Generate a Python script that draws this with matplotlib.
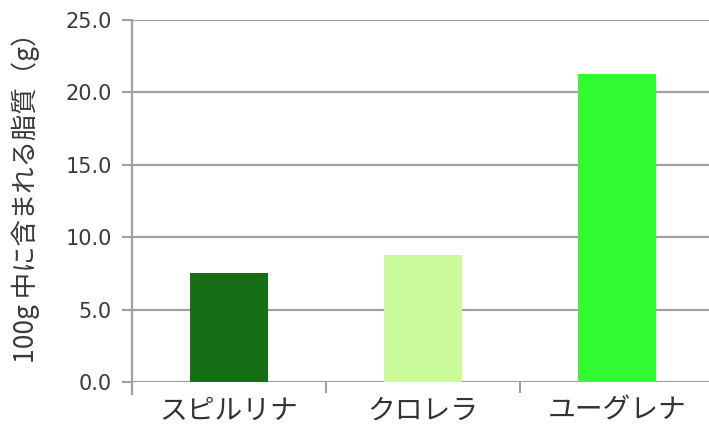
import matplotlib
matplotlib.use("Agg")
import matplotlib.pyplot as plt
from matplotlib.ticker import FixedLocator, NullFormatter

plt.rcParams['font.family'] = ['DejaVu Sans', 'Noto Sans CJK JP']

categories = ["スピルリナ", "クロレラ", "ユーグレナ"]
values = [7.5, 8.8, 21.3]
colors = ["#166f16", "#ccfb9c", "#33fb33"]
yticks = [0, 5, 10, 15, 20, 25]
ylabel = "100g 中に含まれる脂質（g）"

fig = plt.figure(figsize=(7.09, 4.30), dpi=100)
ax = fig.add_axes([132/709, 1-382/430, 1-132/709, (382-20)/430])

x = list(range(len(categories)))
ax.bar(x, values, width=0.4, color=colors, zorder=3)

ax.set_xlim(-0.5, 2.5 - 5/194)
ax.set_ylim(0, 25)
ax.yaxis.set_major_locator(FixedLocator(yticks))
ax.set_yticklabels([f"{v:.1f}" for v in yticks])
ax.yaxis.grid(True, color="#a0a0a0", linewidth=1.6, zorder=0)

ax.xaxis.set_major_locator(FixedLocator([-0.5, 0.5, 1.5]))
ax.xaxis.set_major_formatter(NullFormatter())
ax.xaxis.set_minor_locator(FixedLocator(x))
ax.set_xticklabels(categories, minor=True,
                   family=['Noto Sans CJK JP', 'DejaVu Sans'])
ax.tick_params(axis='x', which='minor', length=0, pad=10, labelsize=20,
               labelcolor="#333333")
ax.tick_params(axis='x', which='major', length=8, width=1.5, color="#a0a0a0")
ax.tick_params(axis='y', length=7.5, width=1.5, color="#a0a0a0", pad=7,
               labelsize=15, labelcolor="#3a3a3a")

for s in ["top", "right", "bottom"]:
    ax.spines[s].set_visible(False)
ax.spines["left"].set_color("#a0a0a0")
ax.spines["left"].set_linewidth(1.6)
ax.spines["left"].set_bounds(-0.8, 25)

ax.set_ylabel(ylabel, fontsize=19, color="#3a3a3a",
              family=['Noto Sans CJK JP', 'DejaVu Sans'])
ax.yaxis.set_label_coords(-0.16, 0.528)

fig.savefig("out.png", dpi=100)
